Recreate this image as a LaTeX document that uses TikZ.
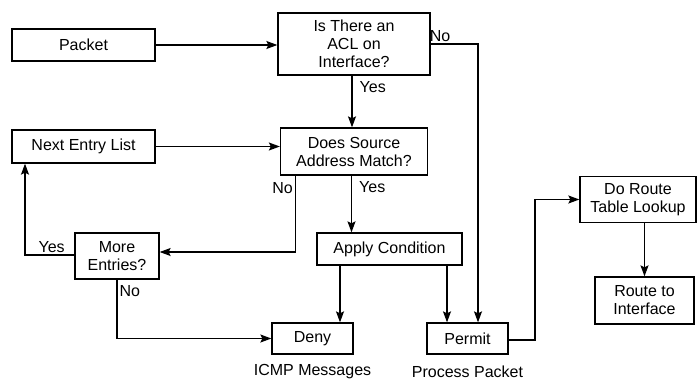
\documentclass[tikz,border=0pt]{standalone}
\usepackage{fontspec}
\setmainfont{Liberation Sans}
\usetikzlibrary{positioning,calc,arrows.meta}

\begin{document}
\begin{tikzpicture}[>={Stealth[length=11pt,width=8pt,inset=2pt]},line width=1.3pt,node distance=1pt,on grid,
  box/.style={draw,rectangle,inner sep=0pt,align=center,font=\fontsize{16}{18}\selectfont},
  lbl/.style={inner sep=2pt,font=\fontsize{16}{18}\selectfont}]
\useasboundingbox (0,0) rectangle (700pt,-380pt);
\node[box,minimum width=143pt,minimum height=32pt](q_packet) at (83.5pt,-45pt){Packet};
\node[box,minimum width=152pt,minimum height=62pt](q_acl)[right=270.5pt of q_packet,yshift=1pt]{Is There an\\ACL on\\Interface?};
\node[box,minimum width=147pt,minimum height=47pt](q_match)[below=107.5pt of q_acl]{Does Source\\Address Match?};
\node[box,minimum width=143pt,minimum height=33pt](q_next)[below=101.5pt of q_packet]{Next Entry List};
\node[box,minimum width=84pt,minimum height=46pt](q_more)[below=109.5pt of q_next,xshift=33.5pt]{More\\Entries?};
\node[box,minimum width=145pt,minimum height=32pt](q_apply)[below=97.5pt of q_match,xshift=35.5pt]{Apply Condition};
\node[box,minimum width=81pt,minimum height=31pt](q_deny)[below=89.5pt of q_apply,xshift=-77pt]{Deny};
\node[box,minimum width=81pt,minimum height=31pt](q_permit)[right=155pt of q_deny]{Permit};
\node[box,minimum width=116pt,minimum height=46pt](q_lookup) at (638pt,-199.5pt){Do Route\\Table Lookup};
\node[box,minimum width=99pt,minimum height=47pt](q_route)[below=101pt of q_lookup,xshift=6.5pt]{Route to\\Interface};
\node[lbl](q_icmp)[below=33pt of q_deny]{ICMP Messages};
\node[lbl](q_process)[below=33pt of q_permit]{Process Packet};
\node[coordinate](q_0)[right=67.5pt of q_permit,yshift=-1.5pt]{};
\draw[->] (q_packet.east) -- (q_packet.east -| q_acl.west);
\draw[->] ([xshift=-2pt]q_acl.south) -- ([xshift=-2pt]q_acl.south |- q_match.north)node[lbl,pos=0.23,right=5pt] {Yes};
\draw[->] (q_acl.east) -| ([xshift=10.5pt]q_permit.north)node[lbl,pos=0.1,above] {No};
\draw[->] (q_next.east) -- (q_next.east -| q_match.west);
\draw[->] ([xshift=-58.5pt]q_match.south) |- ([yshift=4pt]q_more.east)node[lbl,pos=0.08,left] {No};
\draw[->] ([xshift=-2.5pt]q_match.south) -- ([xshift=-2.5pt]q_match.south |- q_apply.north)node[lbl,pos=0.2,right=5pt] {Yes};
\draw[->] ([yshift=1pt]q_more.west) -| ([xshift=-58.5pt]q_next.south)node[lbl,pos=0.23,above] {Yes};
\draw[->] (q_more.south) |- (q_deny.west)node[lbl,pos=0.1,right] {No};
\draw[->] ([xshift=-49.5pt]q_apply.south) -- ([xshift=-49.5pt]q_apply.south |- q_deny.north);
\draw[->] ([xshift=57.5pt]q_apply.south) -- ([xshift=57.5pt]q_apply.south |- q_permit.north);
\draw[->] (q_permit.east |- q_0) -- (q_0) |- (q_lookup.west);
\draw[->] (q_route.north |- q_lookup.south) -- (q_route.north);
\end{tikzpicture}
\end{document}
